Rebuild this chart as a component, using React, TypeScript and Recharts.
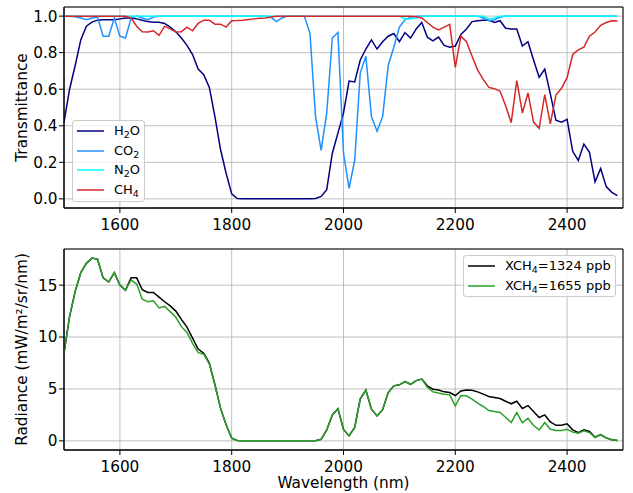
import React from "react";
import {
  LineChart,
  Line,
  XAxis,
  YAxis,
  CartesianGrid,
  Legend,
  ReferenceArea,
} from "recharts";

const FONT = "'DejaVu Sans', sans-serif";

// wavelength grid (nm)
const wavelength = [
  1500, 1510, 1520, 1530, 1540, 1550, 1560, 1570, 1580, 1590,
  1600, 1610, 1620, 1630, 1640, 1650, 1660, 1670, 1680, 1690,
  1700, 1710, 1720, 1730, 1740, 1750, 1760, 1770, 1780, 1790,
  1800, 1810, 1820, 1830, 1840, 1850, 1860, 1870, 1880, 1890,
  1900, 1910, 1920, 1930, 1940, 1950, 1960, 1970, 1980, 1990,
  2000, 2010, 2020, 2030, 2040, 2050, 2060, 2070, 2080, 2090,
  2100, 2110, 2120, 2130, 2140, 2150, 2160, 2170, 2180, 2190,
  2200, 2210, 2220, 2230, 2240, 2250, 2260, 2270, 2280, 2290,
  2300, 2310, 2320, 2330, 2340, 2350, 2360, 2370, 2380, 2390,
  2400, 2410, 2420, 2430, 2440, 2450, 2460, 2470, 2480, 2490,
];

// transmittance
const h2o = [
  0.42, 0.6, 0.73, 0.87, 0.945, 0.967, 0.978, 0.98, 0.98, 0.98,
  0.985, 0.99, 0.99, 0.985, 0.978, 0.97, 0.967, 0.967, 0.96, 0.94,
  0.915, 0.88, 0.84, 0.79, 0.71, 0.68, 0.61, 0.45, 0.27, 0.14,
  0.027, 0.002, 0, 0, 0, 0, 0, 0, 0, 0,
  0, 0, 0, 0, 0, 0.002, 0.013, 0.05, 0.25, 0.36,
  0.47, 0.645, 0.64, 0.76, 0.82, 0.87, 0.82, 0.86, 0.89, 0.905,
  0.86, 0.91, 0.88, 0.93, 0.965, 0.885, 0.865, 0.885, 0.84, 0.83,
  0.836, 0.9, 0.93, 0.97, 0.975, 0.978, 0.978, 0.965, 0.975, 0.934,
  0.93, 0.93, 0.836, 0.86, 0.76, 0.665, 0.71, 0.575, 0.43, 0.42,
  0.435, 0.26, 0.21, 0.3, 0.255, 0.093, 0.166, 0.067, 0.036, 0.018,
];

const co2 = [
  1, 1, 0.997, 0.99, 0.98, 0.99, 0.995, 0.89, 0.89, 0.99,
  0.89, 0.88, 0.99, 1, 0.99, 0.98, 0.995, 1, 1, 1,
  1, 1, 1, 1, 1, 1, 1, 1, 1, 1,
  1, 1, 1, 1, 1, 1, 1, 0.995, 0.97, 0.99,
  1, 1, 1, 1, 0.905, 0.45, 0.265, 0.47, 0.88, 0.91,
  0.25, 0.058, 0.21, 0.69, 0.78, 0.45, 0.37, 0.45, 0.73, 0.83,
  0.94, 0.98, 0.995, 1, 1, 1, 1, 1, 1, 1,
  1, 1, 1, 1, 1, 0.99, 0.975, 0.98, 0.995, 1,
  1, 1, 1, 1, 1, 1, 1, 1, 1, 1,
  1, 1, 1, 1, 1, 1, 1, 1, 1, 1,
];

const n2o = [
  1, 1, 1, 1, 1, 1, 1, 1, 1, 1,
  1, 1, 1, 1, 1, 1, 1, 1, 1, 1,
  1, 1, 1, 1, 1, 1, 1, 1, 1, 1,
  1, 1, 1, 1, 1, 1, 1, 1, 1, 1,
  1, 1, 1, 1, 1, 1, 1, 1, 1, 1,
  1, 1, 1, 1, 1, 1, 1, 1, 1, 1,
  1, 0.985, 0.985, 0.99, 1, 1, 1, 1, 1, 1,
  1, 1, 1, 1, 1, 1, 0.985, 0.99, 1, 1,
  1, 1, 1, 1, 1, 1, 1, 1, 1, 1,
  1, 1, 1, 1, 1, 1, 1, 1, 1, 1,
];

const ch4 = [
  1, 1, 1, 1, 1, 1, 1, 1, 1, 1,
  1, 1, 0.99, 0.945, 0.915, 0.913, 0.92, 0.895, 0.945, 0.93,
  0.913, 0.915, 0.94, 0.92, 0.96, 0.978, 0.978, 0.956, 0.956, 0.94,
  0.975, 0.976, 0.978, 0.982, 0.985, 0.988, 0.99, 0.995, 1, 1,
  1, 1, 1, 1, 1, 1, 1, 1, 1, 1,
  1, 1, 1, 1, 1, 1, 1, 1, 1, 1,
  1, 1, 1, 0.997, 0.99, 0.965, 0.94, 0.925, 0.94, 0.955,
  0.72, 0.89, 0.86, 0.78, 0.705, 0.654, 0.61, 0.603, 0.59, 0.51,
  0.417, 0.647, 0.47, 0.58, 0.42, 0.386, 0.57, 0.41, 0.568, 0.605,
  0.663, 0.79, 0.815, 0.83, 0.89, 0.913, 0.95, 0.965, 0.975, 0.973,
];

// radiance (mW/m2/sr/nm)
const rad1324 = [
  8.45, 12.0, 14.4, 16.2, 17.1, 17.6, 17.5, 15.7, 15.3, 16.2,
  15.0, 14.5, 15.7, 15.7, 14.55, 14.3, 14.3, 13.85, 13.4, 13.0,
  12.5, 11.7, 10.95, 9.9, 8.85, 8.45, 7.5, 5.4, 3.15, 1.55,
  0.26, 0.03, 0, 0, 0, 0, 0, 0, 0, 0,
  0, 0, 0, 0, 0, 0.02, 0.15, 1.05, 2.5, 3.1,
  1.1, 0.48, 1.3, 4.05, 4.9, 3.05, 2.4, 3.0, 4.65, 5.3,
  5.4, 5.7, 5.45, 5.8, 5.95, 5.3, 4.98, 4.9, 4.72, 4.65,
  4.37, 4.8, 4.9, 4.88, 4.72, 4.5, 4.27, 4.18, 4.08, 3.82,
  3.57, 3.82, 3.12, 3.4, 2.83, 2.25, 2.5, 1.83, 1.5, 1.5,
  1.64, 1.06, 0.8, 1.06, 0.9, 0.35, 0.61, 0.29, 0.1, 0.03,
];

const rad1655 = [
  8.45, 12.0, 14.4, 16.2, 17.1, 17.6, 17.5, 15.7, 15.3, 16.2,
  15.0, 14.5, 15.5, 15.1, 13.65, 13.4, 13.5, 12.8, 12.95, 12.45,
  11.9, 11.0, 10.45, 9.4, 8.5, 8.35, 7.4, 5.4, 3.15, 1.55,
  0.26, 0.03, 0, 0, 0, 0, 0, 0, 0, 0,
  0, 0, 0, 0, 0, 0.02, 0.15, 1.05, 2.5, 3.1,
  1.1, 0.48, 1.3, 4.05, 4.9, 3.05, 2.4, 3.0, 4.65, 5.3,
  5.4, 5.7, 5.45, 5.8, 5.95, 5.17, 4.72, 4.6, 4.5, 4.43,
  3.37, 4.37, 4.34, 4.02, 3.63, 3.31, 2.92, 2.83, 2.73, 2.28,
  1.77, 2.73, 1.73, 2.18, 1.48, 1.06, 1.77, 1.12, 1.0, 1.0,
  1.12, 0.84, 0.74, 0.96, 0.8, 0.32, 0.58, 0.26, 0.1, 0.03,
];

const xTicks = [1600, 1800, 2000, 2200, 2400];
const transTicks = [0, 0.2, 0.4, 0.6, 0.8, 1.0];
const radTicks = [0, 5, 10, 15];

const transData = wavelength.map((w, i) => ({
  w,
  h2o: h2o[i],
  co2: co2[i],
  n2o: n2o[i],
  ch4: ch4[i],
}));

const radData = wavelength.map((w, i) => ({
  w,
  low: rad1324[i],
  high: rad1655[i],
}));

const tickStyle = { fontFamily: FONT, fontSize: 15.3, fill: "#000" };

const Sub = ({ children }: { children: React.ReactNode }) => (
  <span style={{ fontSize: 9.5, position: "relative", top: 3 }}>{children}</span>
);

type Item = { color: string; label: React.ReactNode };

function BoxLegend({ items }: { items: Item[] }) {
  return (
    <div
      style={{
        border: "1px solid #cccccc",
        borderRadius: 3,
        background: "rgba(255,255,255,0.8)",
        padding: "0 4px 1px 4px",
        fontFamily: FONT,
        fontSize: 13,
        color: "#000",
      }}
    >
      {items.map((it, i) => (
        <div key={i} style={{ display: "flex", alignItems: "center", height: 19.7 }}>
          <svg width={27} height={4} style={{ marginRight: 10, display: "block" }}>
            <line x1={0} y1={2} x2={27} y2={2} stroke={it.color} strokeWidth={1.5} />
          </svg>
          <span style={{ whiteSpace: "nowrap", lineHeight: "13px" }}>{it.label}</span>
        </div>
      ))}
    </div>
  );
}

const gasItems: Item[] = [
  { color: "#000080", label: <>H<Sub>2</Sub>O</> },
  { color: "#1e90ff", label: <>CO<Sub>2</Sub></> },
  { color: "#00ffff", label: <>N<Sub>2</Sub>O</> },
  { color: "#d62728", label: <>CH<Sub>4</Sub></> },
];

const radItems: Item[] = [
  { color: "#000000", label: <>XCH<Sub>4</Sub>=1324 ppb</> },
  { color: "#2ca02c", label: <>XCH<Sub>4</Sub>=1655 ppb</> },
];

const yLabel = (content: React.ReactNode, cy: number) => () => (
  <text
    x={26.5}
    y={cy}
    transform={`rotate(-90 26.5 ${cy})`}
    textAnchor="middle"
    fontFamily={FONT}
    fontSize={15.3}
    fill="#000"
  >
    {content}
  </text>
);

const xLabel = () => (
  <text x={343.5} y={248.3} textAnchor="middle" fontFamily={FONT} fontSize={15.3} fill="#000">
    Wavelength (nm)
  </text>
);

export default function App() {
  return (
    <div
      style={{
        position: "absolute",
        left: 0,
        top: 0,
        width: 633,
        height: 493,
        background: "#fff",
      }}
    >
      <div style={{ position: "absolute", left: 0, top: 0 }}>
        <LineChart
          width={633}
          height={240}
          data={transData}
          margin={{ top: 7, right: 10, bottom: 0, left: 0 }}
        >
          <CartesianGrid stroke="#b0b0b0" strokeWidth={0.8} />
          <XAxis
            dataKey="w"
            type="number"
            domain={[1500, 2500]}
            ticks={xTicks}
            allowDataOverflow
            height={32}
            tickSize={5}
            tickMargin={6}
            tick={tickStyle}
            stroke="#000"
          />
          <YAxis
            type="number"
            domain={[-0.05, 1.05]}
            ticks={transTicks}
            allowDataOverflow
            width={64}
            tickSize={5}
            tickMargin={1.5}
            tick={tickStyle}
            tickFormatter={(v: number) => v.toFixed(1)}
            stroke="#000"
            label={yLabel("Transmittance", 107.5)}
          />
          <Line dataKey="h2o" stroke="#000080" strokeWidth={1.5} dot={false} isAnimationActive={false} />
          <Line dataKey="co2" stroke="#1e90ff" strokeWidth={1.5} dot={false} isAnimationActive={false} />
          <Line dataKey="n2o" stroke="#00ffff" strokeWidth={1.5} dot={false} isAnimationActive={false} />
          <Line dataKey="ch4" stroke="#d62728" strokeWidth={1.5} dot={false} isAnimationActive={false} />
          <ReferenceArea x1={1500} x2={2500} y1={-0.05} y2={1.05} fill="none" stroke="#000" strokeWidth={1} />
          <Legend
            layout="vertical"
            align="center"
            verticalAlign="middle"
            wrapperStyle={{ left: 72, top: 120, width: "auto" }}
            content={() => <BoxLegend items={gasItems} />}
          />
        </LineChart>
      </div>
      <div style={{ position: "absolute", left: 0, top: 240 }}>
        <LineChart
          width={633}
          height={253}
          data={radData}
          margin={{ top: 9, right: 10, bottom: 0, left: 0 }}
        >
          <CartesianGrid stroke="#b0b0b0" strokeWidth={0.8} />
          <XAxis
            dataKey="w"
            type="number"
            domain={[1500, 2500]}
            ticks={xTicks}
            allowDataOverflow
            height={43}
            tickSize={5}
            tickMargin={6}
            tick={tickStyle}
            stroke="#000"
            label={xLabel}
          />
          <YAxis
            type="number"
            domain={[-0.88, 18.48]}
            ticks={radTicks}
            allowDataOverflow
            width={64}
            tickSize={5}
            tickMargin={1.5}
            tick={tickStyle}
            stroke="#000"
            label={yLabel("Radiance (mW/m²/sr/nm)", 109.5)}
          />
          <Line dataKey="low" stroke="#000000" strokeWidth={1.5} dot={false} isAnimationActive={false} />
          <Line dataKey="high" stroke="#2ca02c" strokeWidth={1.5} dot={false} isAnimationActive={false} />
          <ReferenceArea x1={1500} x2={2500} y1={-0.88} y2={18.48} fill="none" stroke="#000" strokeWidth={1} />
          <Legend
            layout="vertical"
            align="center"
            verticalAlign="middle"
            wrapperStyle={{ left: 463, top: 15, width: "auto" }}
            content={() => <BoxLegend items={radItems} />}
          />
        </LineChart>
      </div>
    </div>
  );
}
